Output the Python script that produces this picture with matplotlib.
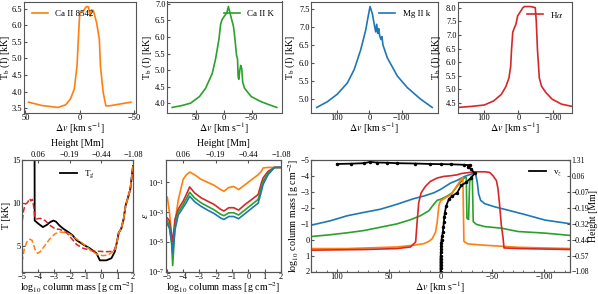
import numpy as np
import matplotlib
matplotlib.use('Agg')
import matplotlib.pyplot as plt
from matplotlib.lines import Line2D

plt.rcParams['font.family'] = ['Liberation Serif', 'DejaVu Serif']
plt.rcParams['mathtext.fontset'] = 'stix'
plt.rcParams['axes.edgecolor'] = '#555555'
plt.rcParams['xtick.color'] = '#555555'
plt.rcParams['ytick.color'] = '#555555'
plt.rcParams['xtick.labelcolor'] = 'black'
plt.rcParams['ytick.labelcolor'] = 'black'
plt.rcParams['xtick.direction'] = 'in'
plt.rcParams['ytick.direction'] = 'in'
plt.rcParams['xtick.labelsize'] = 6
plt.rcParams['ytick.labelsize'] = 6
plt.rcParams['axes.labelsize'] = 7.2
plt.rcParams['xtick.major.size'] = 2.5
plt.rcParams['ytick.major.size'] = 2.5
plt.rcParams['xtick.major.pad'] = 1.0
plt.rcParams['ytick.major.pad'] = 1.0

C_ORA, C_GRE, C_BLU, C_RED = '#ff7f0e', '#2ca02c', '#1f77b4', '#d62728'

# ---- top row: brightness temperature profiles
dv_ca8542 = [47, 35, 20, 13, 8.5, 5, 2.5, 1, 0, -3, -6, -8, -9.6, -10.7, -12.5, -15.5,
             -18, -19, -21.5, -24, -27.5, -47]
tb_ca8542 = [3.68, 3.58, 3.52, 3.6, 3.78, 4.08, 4.78, 5.78, 6.38, 6.42, 6.57, 6.56, 6.28,
             6.47, 6.45, 6.08, 5.58, 4.78, 3.98, 3.57, 3.57, 3.68]

dv_cak = [93, 75, 60, 44, 33, 21, 15, 9, 6, 3.5, 0.5, -2.5, -5, -8, -11, -14, -17, -18.6,
          -21, -22.7, -24.4, -25.6, -26.7, -28.5, -30.2, -32, -33.7, -37, -49, -66, -80, -95]
tb_cak = [3.87, 3.93, 4.0, 4.2, 4.45, 4.9, 5.34, 5.93, 6.38, 6.52, 6.6, 6.67, 6.72, 6.92,
          6.72, 6.52, 6.33, 6.13, 5.73, 5.44, 5.34, 4.79, 4.72, 4.99, 5.14, 5.04, 4.64,
          4.45, 4.2, 4.05, 3.96, 3.87]

dv_mg = [163, 130, 99, 68, 47, 27, 11.3, 4.1, -2.1, -9.3, -16.5, -19.6, -22.7, -25.8,
         -28.9, -32, -36, -39, -42, -55.7, -86.6, -117.5, -158.8, -194.8]
tb_mg = [4.77, 4.93, 5.14, 5.45, 5.82, 6.36, 6.91, 7.27, 7.56, 7.36, 7.0, 6.86, 7.07, 6.82,
         6.95, 6.75, 6.65, 6.73, 6.5, 6.14, 5.64, 5.32, 5.0, 4.77]

dv_ha = [174, 134, 98, 71, 49, 36, 27, 22, 19.6, 16, 10.7, 7, 1.8, -4.5, -13.4, -17.9,
         -35.7, -49, -51.8, -55.4, -60.7, -67, -80, -98, -125, -155]
tb_ha = [4.34, 4.38, 4.43, 4.58, 4.82, 5.1, 5.42, 5.84, 6.44, 7.1, 7.28, 7.38, 7.7, 7.82,
         8.0, 8.04, 8.04, 8.0, 7.52, 6.44, 5.42, 5.12, 4.88, 4.64, 4.46, 4.38]

# ---- bottom left: temperatures vs column mass
cm_tg = [-5.0, -4.97, -4.5, -4.22, -4.2, -3.96, -3.68, -3.43, -3.23, -3.02, -2.85, -2.64,
         -2.39, -2.08, -1.81, -1.56, -1.14, -0.72, -0.3, -0.09, 0.32, 0.64, 0.85, 0.99,
         1.1, 1.26, 1.41, 1.53, 1.68, 1.83, 2.0]
t_gas = [12.3, 30, 30, 30, 7.94, 7.56, 7.18, 7.44, 7.75, 7.94, 7.8, 7.37, 6.98, 6.6, 6.22,
         5.65, 5.15, 4.7, 4.12, 3.3, 3.3, 3.55, 4.3, 5.46, 6.53, 7.0, 8.13, 9.66, 10.6,
         11.6, 14.3]

cm_trad = [-4.98, -4.9, -4.79, -4.65, -4.52, -4.44, -4.35, -4.27, -4.19, -4.1, -3.85,
           -3.54, -3.23, -2.91, -2.6, -2.18, -1.87, -1.56, -1.14, -0.51, 0.32, 0.78, 0.9,
           0.99, 1.1, 1.26, 1.41, 1.53, 1.68, 1.83, 2.0]
t_rad_ha = [7.94, 9.1, 9.85, 10.04, 10.5, 10.23, 10.4, 9.66, 8.32, 8.13, 8.2, 7.94, 7.37,
            6.98, 6.9, 6.5, 5.84, 5.15, 4.7, 4.39, 4.31, 4.35, 4.9, 5.46, 6.53, 7.0, 8.13,
            9.66, 10.6, 11.6, 14.3]
cm_ca = [-5.0, -4.85, -4.69, -4.52, -4.37, -4.27, -4.16, -4.02, -3.85, -3.54, -3.23, -2.91,
         -2.6, -2.18, -1.87, -1.45, -1.03, -0.62, -0.2, 0.11, 0.43, 0.74, 0.85, 0.99, 1.1,
         1.26, 1.41, 1.53, 1.68, 1.83, 2.0]
t_rad_ca = [3.09, 4.7, 5.46, 5.76, 5.65, 5.08, 4.5, 4.12, 4.31, 5.08, 5.84, 6.41, 6.6,
            6.53, 6.22, 5.65, 5.08, 4.39, 3.93, 3.85, 3.93, 4.31, 4.4, 5.46, 6.53, 7.0,
            8.13, 9.66, 10.6, 11.6, 14.3]

# ---- bottom middle: log10 epsilon
cm_eps = [-4.97, -4.84, -4.7, -4.64, -4.5, -4.3, -4.0, -3.8, -3.6, -3.3, -2.9, -2.5, -2.1,
          -1.7, -1.5, -1.2, -0.9, -0.6, -0.2, 0.2, 0.6, 0.8, 0.9, 1.2, 1.6, 2.0]
leps_ca8542 = [-2.0, -3.0, -4.6, -5.3, -3.7, -2.2, -0.8, -0.5, -0.31, -0.49, -0.8, -1.0,
               -1.2, -1.49, -1.6, -1.35, -1.28, -1.49, -1.16, -0.82, -0.49, -0.25, -0.04,
               0.0, 0.0, 0.0]
leps_ha = [-3.4, -3.6, -4.6, -5.0, -3.5, -2.8, -2.27, -1.82, -1.31, -1.71, -2.04, -2.27,
           -2.49, -2.82, -2.93, -2.71, -2.71, -2.87, -2.49, -2.16, -1.82, -1.04, -0.71,
           -0.27, 0.0, 0.0]
leps_cak = [-3.6, -3.9, -5.2, -6.6, -4.0, -3.0, -2.5, -2.1, -1.67, -2.05, -2.38, -2.62,
            -2.85, -3.15, -3.25, -3.05, -3.05, -3.2, -2.85, -2.5, -2.15, -1.35, -0.95,
            -0.4, 0.0, 0.0]
leps_mg = [-3.8, -4.1, -5.0, -5.8, -4.2, -3.2, -2.7, -2.35, -1.93, -2.3, -2.62, -2.87,
           -3.1, -3.4, -3.5, -3.3, -3.3, -3.45, -3.1, -2.75, -2.4, -1.6, -1.15, -0.5, 0.0,
           0.0]

height_ticks = [-4, -2, 0, 2]
height_labels = ['0.06', '\u22120.19', '\u22120.44', '\u22121.08']

# ---- bottom right: tau=1 column mass vs dv, and v_z
f_dv_mg = [124, 106, 90, 74, 58, 42, 26, 16, 6.5, 0, -4.8, -9.7, -16, -23.3, -29.7, -33.6,
           -35.5, -36.8, -38.7, -42.6, -52.3, -65.2, -81.3, -100.7, -126]
f_cm_mg = [-0.92, -1.19, -1.5, -1.71, -1.91, -2.22, -2.57, -2.74, -2.94, -3.15, -3.35,
           -3.55, -3.72, -3.97, -4.11, -4.22, -3.6, -2.88, -2.47, -2.26, -2.06, -1.85,
           -1.58, -1.23, -0.99]
f_dv_cak = [124, 106, 90, 74, 58, 42, 29, 19.4, 11.3, 6.5, 3.2, 0, -6.5, -11.3, -16, -23.3,
            -24.9, -25.5, -27.1, -28.1, -29.7, -30.7, -31.6, -34.6, -42.6, -58.7, -74.9,
            -100.7, -126]
f_cm_cak = [-0.2, -0.31, -0.43, -0.57, -0.78, -0.99, -1.25, -1.5, -1.81, -2.22, -2.47,
            -2.53, -2.74, -2.94, -3.35, -3.9, -3.9, -1.34, -1.27, -3.6, -3.97, -3.9, -1.13,
            -0.96, -0.82, -0.72, -0.51, -0.41, -0.26]
f_dv_ca8542 = [124, 90, 42, 26, 16, 11, 8, 4.8, 3.2, 1.6, 0, -4.8, -9.7, -16, -20, -21.6,
               -22.6, -26.5, -42.6, -74.9, -126]
f_cm_ca8542 = [0.56, 0.56, 0.46, 0.35, 0.25, 0.1, -0.06, -0.47, -1.09, -2.12, -2.43,
               -2.63, -2.8, -3.4, -3.8, -3.9, 0.11, 0.27, 0.35, 0.48, 0.56]
f_dv_ha = [124, 74, 42, 29, 24, 22.6, 21, 18.7, 14.5, 9.7, 3.2, -3.2, -9.7, -16, -20, -33,
           -42.6, -47.5, -50.7, -54, -55.5, -57.1, -58.7, -60.4, -61.3, -74.9, -126]
f_cm_ha = [0.66, 0.62, 0.56, 0.46, 0.15, -1.09, -2.32, -2.94, -3.35, -3.66, -3.87, -3.97,
           -4.01, -4.07, -4.15, -4.26, -4.26, -4.22, -4.01, -3.7, -3.19, -2.16, -0.92,
           -0.1, 0.52, 0.56, 0.62]

vz = [0, 0, 0, 0, 0, -0.2, -0.3, -0.5, -0.6, -0.8, -1, -1.6, -2.3, -2.8, -3.2, -3.7, -4.2,
      -5.5, -8, -11.3, -16, -20, -24.9, -29.7, -33, -29.7, -26.5, -28, -23, -10.4, 0, 9.7,
      25, 42, 52, 61, 68, 74, 86, 100]
cm_vz = [2.0, 1.8, 1.6, 1.4, 1.2, 1.0, 0.8, 0.6, 0.4, 0.2, 0.0, -0.25, -0.47, -0.8, -1.09,
         -1.4, -1.7, -2.12, -2.53, -2.74, -2.94, -3.4, -3.6, -3.9, -4.16, -4.42, -4.59,
         -4.67, -4.7, -4.73, -4.74, -4.75, -4.78, -4.8, -4.83, -4.84, -4.88, -4.8, -4.77,
         -4.75]
cm_ticks = [-5, -4, -3, -2, -1, 0, 1, 2]
height_right = ['1.31', '0.06', '\u22120.07', '\u22120.19', '\u22120.32', '\u22120.44',
                '\u22120.57', '\u22121.08']

W, H = 598.0, 294.0


def add_ax(fig, box):
    x0, x1, y0, y1 = box
    return fig.add_axes([x0 / W, 1 - y1 / H, (x1 - x0) / W, (y1 - y0) / H])


def place_xlabel(ax, box, py):
    x0, x1, y0, y1 = box
    ax.xaxis.set_label_coords(0.5, (y1 - py) / (y1 - y0))
    ax.xaxis.label.set_verticalalignment('center')


def place_ylabel(ax, box, px):
    x0, x1, y0, y1 = box
    ax.yaxis.set_label_coords((px - x0) / (x1 - x0), 0.5)
    ax.yaxis.label.set_verticalalignment('center')


fig = plt.figure(figsize=(W / 100, H / 100), dpi=100)

top_boxes = [(23.5, 136, 1.5, 112.5), (167, 282, 1.5, 112.5), (311, 438, 1.5, 112.5),
             (458, 572, 1.5, 112.5)]
top_ylab_x = [5.5, 147, 290, 436]
profiles = [(dv_ca8542, tb_ca8542, C_ORA, 'Ca II 8542', 'upper left'),
            (dv_cak, tb_cak, C_GRE, 'Ca II K', 'upper right'),
            (dv_mg, tb_mg, C_BLU, 'Mg II k', 'upper right'),
            (dv_ha, tb_ha, C_RED, r'H$\alpha$', 'upper right')]
top_axes = []
for box, ylx, (dv, tb, col, lab, loc) in zip(top_boxes, top_ylab_x, profiles):
    ax = add_ax(fig, box)
    ax.plot(dv, tb, color=col, lw=1.2, label=lab)
    ax.invert_xaxis()
    ax.set_xlabel(r'$\Delta v$ [km s$^{-1}$]')
    ax.set_ylabel(r'T$_{\rm b}$ (I) [kK]')
    place_xlabel(ax, box, 128.5)
    place_ylabel(ax, box, ylx)
    ax.legend(loc=loc, frameon=False, fontsize=6.5, handlelength=1.8)
    ax.yaxis.set_major_locator(plt.MultipleLocator(0.5))
    ax.yaxis.set_major_formatter(plt.FormatStrFormatter('%.1f'))
    top_axes.append(ax)
top_axes[0].set_xticks([50, 0, -50])
top_axes[1].set_xticks([50, 0, -50])
top_axes[2].set_xticks([100, 0, -100])
top_axes[3].set_xticks([100, 0, -100])
top_axes[3].set_xlim(174, -155)

# bottom left
box5 = (22, 133, 160, 271.5)
ax5 = add_ax(fig, box5)
ax5.plot(cm_tg, t_gas, color='black', lw=1.3, label=r'T$_{\rm g}$')
ax5.plot(cm_trad, t_rad_ha, color=C_RED, lw=1.1, ls='--')
ax5.plot(cm_ca, t_rad_ca, color=C_ORA, lw=1.1, ls='--')
ax5.set_xlim(-5, 2)
ax5.set_ylim(2, 15)
ax5.set_yticks([5, 10, 15])
ax5.set_xticks(range(-5, 3))
ax5.set_xlabel(r'log$_{10}$ column mass [g cm$^{-2}$]')
ax5.set_ylabel('T [kK]')
place_xlabel(ax5, box5, 287.5)
place_ylabel(ax5, box5, 6)
ax5.legend(loc='upper center', frameon=False, fontsize=6.5, handlelength=1.8)

# bottom middle
box6 = (166, 281, 160, 271.5)
ax6 = add_ax(fig, box6)
for le, col in [(leps_ca8542, C_ORA), (leps_ha, C_RED), (leps_cak, C_GRE), (leps_mg, C_BLU)]:
    ax6.plot(cm_eps, np.power(10.0, le), color=col, lw=1.2)
ax6.set_yscale('log')
ax6.set_xlim(-5.05, 2)
ax6.set_ylim(1e-7, 10 ** 0.5)
ax6.set_yticks([1e-7, 1e-5, 1e-3, 1e-1])
ax6.minorticks_off()
ax6.set_xticks(range(-5, 3))
ax6.set_xlabel(r'log$_{10}$ column mass [g cm$^{-2}$]')
ax6.set_ylabel(r'$\epsilon$')
place_xlabel(ax6, box6, 287.5)
place_ylabel(ax6, box6, 145)

for ax, box in ((ax5, box5), (ax6, box6)):
    tw = ax.twiny()
    tw.set_xlim(ax.get_xlim())
    tw.set_xticks(height_ticks)
    tw.set_xticklabels(height_labels)
    tw.set_xlabel('Height [Mm]')
    place_xlabel(tw, box, 144)

# bottom right
box7 = (311, 570, 160, 271.5)
ax7 = add_ax(fig, box7)
ax7.plot(f_dv_mg, f_cm_mg, color=C_BLU, lw=1.2)
ax7.plot(f_dv_cak, f_cm_cak, color=C_GRE, lw=1.2)
ax7.plot(f_dv_ca8542, f_cm_ca8542, color=C_ORA, lw=1.2)
ax7.plot(f_dv_ha, f_cm_ha, color=C_RED, lw=1.2)
ax7.plot(vz, cm_vz, color='black', lw=1.3, marker='.', ms=3)
ax7.set_xlim(125, -125)
ax7.set_ylim(2, -5)
ax7.set_yticks(cm_ticks)
ax7.set_xticks([100, 50, 0, -50, -100])
ax7.xaxis.set_minor_locator(plt.MultipleLocator(10))
ax7.tick_params(axis='x', which='minor', length=1.5, direction='in')
ax7.set_xlabel(r'$\Delta v$ [km s$^{-1}$]')
ax7.set_ylabel(r'log$_{10}$ column mass [g cm$^{-2}$]')
place_xlabel(ax7, box7, 287.5)
place_ylabel(ax7, box7, 294)
ax7.legend(handles=[Line2D([], [], color='black', lw=1.3)], labels=[r'v$_z$'],
           loc='upper right', frameon=False, fontsize=6.5, handlelength=1.8)
tw7 = ax7.twinx()
tw7.set_ylim(2, -5)
tw7.set_yticks(cm_ticks)
tw7.set_yticklabels(height_right)
tw7.tick_params(axis='y', labelsize=5.5, pad=1)
tw7.set_ylabel('Height [Mm]', fontsize=7)
place_ylabel(tw7, box7, 593)

fig.savefig('out.png', dpi=100)
